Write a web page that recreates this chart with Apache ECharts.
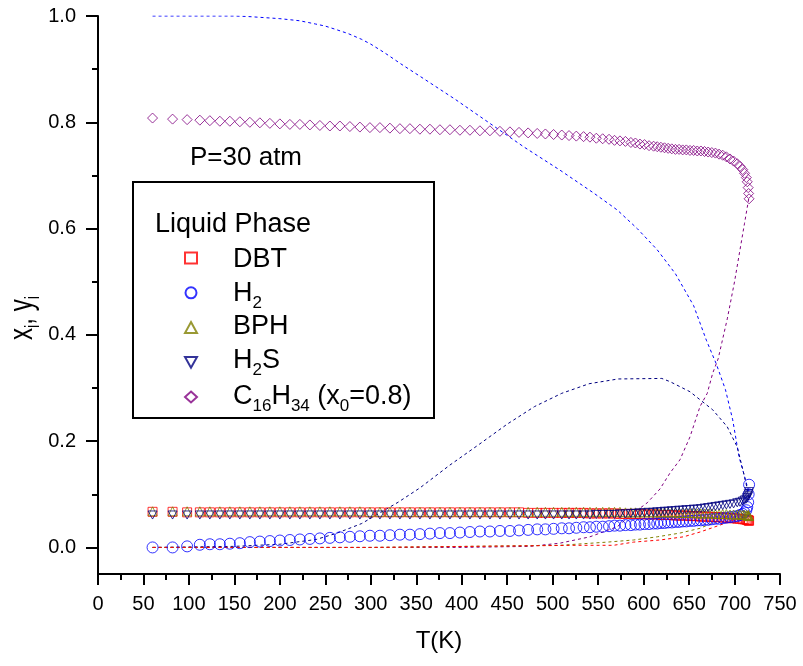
<!DOCTYPE html>
<html><head><meta charset="utf-8">
<script src="https://cdn.jsdelivr.net/npm/echarts@6/dist/echarts.min.js"></script>
<style>html,body{margin:0;padding:0;background:#fff}#c{width:803px;height:666px}</style>
</head><body><div id="c"></div>
<script>
// Liquid phase temperature grid (K)
const T_liq = [60, 82, 98, 112, 123, 134, 145, 156, 167, 178,
  189, 200, 211, 222, 233, 244, 255, 266, 277, 288,
  299, 310, 321, 332, 343, 354, 365, 376, 387, 398,
  409, 420, 431, 442, 453, 463, 473, 483, 492, 501,
  510, 518, 526, 534, 541, 548, 555, 562, 568, 574,
  580, 586, 591, 596, 601, 606, 611, 615, 619, 623,
  627, 631, 635, 639, 643, 647, 651, 655, 659, 663,
  667, 671, 675, 679, 683, 687, 691, 695, 699, 703,
  706, 709, 711, 713, 714, 715, 715.5, 716];

// Liquid mole fractions
const x_DBT = [0.067, 0.067, 0.066, 0.066, 0.066, 0.066, 0.066, 0.066, 0.066, 0.066,
  0.066, 0.066, 0.066, 0.066, 0.066, 0.066, 0.066, 0.066, 0.066, 0.066,
  0.066, 0.066, 0.066, 0.066, 0.066, 0.066, 0.066, 0.066, 0.066, 0.066,
  0.066, 0.066, 0.066, 0.066, 0.066, 0.066, 0.065, 0.065, 0.065, 0.065,
  0.065, 0.065, 0.065, 0.065, 0.064, 0.064, 0.064, 0.064, 0.064, 0.063,
  0.063, 0.063, 0.063, 0.063, 0.062, 0.062, 0.062, 0.062, 0.061, 0.061,
  0.061, 0.061, 0.060, 0.060, 0.060, 0.060, 0.059, 0.059, 0.059, 0.058,
  0.058, 0.058, 0.057, 0.057, 0.057, 0.056, 0.056, 0.055, 0.055, 0.054,
  0.054, 0.053, 0.053, 0.052, 0.052, 0.051, 0.051, 0.050];

const x_H2 = [0.000, 0.000, 0.002, 0.005, 0.006, 0.006, 0.007, 0.008, 0.010, 0.011,
  0.012, 0.013, 0.014, 0.015, 0.016, 0.017, 0.018, 0.019, 0.020, 0.021,
  0.022, 0.022, 0.023, 0.024, 0.024, 0.025, 0.026, 0.027, 0.027, 0.028,
  0.029, 0.030, 0.030, 0.031, 0.031, 0.032, 0.033, 0.034, 0.034, 0.035,
  0.036, 0.036, 0.037, 0.038, 0.038, 0.039, 0.039, 0.040, 0.041, 0.041,
  0.042, 0.042, 0.043, 0.043, 0.044, 0.044, 0.045, 0.045, 0.046, 0.046,
  0.047, 0.047, 0.048, 0.048, 0.049, 0.049, 0.050, 0.050, 0.051, 0.051,
  0.052, 0.052, 0.053, 0.054, 0.054, 0.055, 0.056, 0.057, 0.058, 0.059,
  0.061, 0.063, 0.066, 0.070, 0.076, 0.085, 0.100, 0.118];

const x_BPH = [0.068, 0.068, 0.068, 0.068, 0.068, 0.068, 0.068, 0.068, 0.068, 0.068,
  0.068, 0.068, 0.068, 0.068, 0.068, 0.068, 0.068, 0.068, 0.068, 0.068,
  0.067, 0.067, 0.067, 0.067, 0.067, 0.067, 0.067, 0.067, 0.067, 0.067,
  0.067, 0.067, 0.067, 0.067, 0.067, 0.067, 0.067, 0.067, 0.067, 0.067,
  0.067, 0.067, 0.067, 0.067, 0.067, 0.067, 0.067, 0.067, 0.067, 0.067,
  0.066, 0.066, 0.066, 0.066, 0.066, 0.066, 0.066, 0.066, 0.066, 0.066,
  0.066, 0.066, 0.066, 0.065, 0.065, 0.065, 0.065, 0.065, 0.064, 0.064,
  0.064, 0.064, 0.064, 0.063, 0.063, 0.063, 0.063, 0.062, 0.062, 0.062,
  0.062, 0.061, 0.061, 0.061, 0.060, 0.060, 0.059, 0.059];

const x_H2S = [0.061, 0.061, 0.061, 0.061, 0.061, 0.061, 0.061, 0.061, 0.061, 0.061,
  0.061, 0.061, 0.061, 0.061, 0.061, 0.061, 0.061, 0.061, 0.061, 0.061,
  0.061, 0.061, 0.061, 0.061, 0.061, 0.061, 0.061, 0.061, 0.061, 0.061,
  0.061, 0.061, 0.061, 0.061, 0.061, 0.061, 0.061, 0.061, 0.061, 0.061,
  0.061, 0.061, 0.061, 0.061, 0.061, 0.062, 0.062, 0.062, 0.062, 0.063,
  0.063, 0.064, 0.064, 0.065, 0.065, 0.066, 0.066, 0.067, 0.067, 0.068,
  0.068, 0.069, 0.069, 0.070, 0.070, 0.071, 0.071, 0.072, 0.072, 0.073,
  0.074, 0.075, 0.076, 0.077, 0.078, 0.079, 0.080, 0.081, 0.082, 0.084,
  0.085, 0.087, 0.089, 0.091, 0.094, 0.097, 0.101, 0.105];

const x_C16 = [0.808, 0.806, 0.805, 0.804, 0.803, 0.802, 0.802, 0.801, 0.800, 0.799,
  0.798, 0.797, 0.796, 0.796, 0.795, 0.794, 0.793, 0.793, 0.792, 0.791,
  0.790, 0.790, 0.789, 0.788, 0.788, 0.787, 0.787, 0.786, 0.786, 0.785,
  0.785, 0.784, 0.784, 0.783, 0.782, 0.781, 0.780, 0.779, 0.778, 0.777,
  0.776, 0.775, 0.774, 0.773, 0.772, 0.770, 0.769, 0.768, 0.766, 0.765,
  0.764, 0.762, 0.761, 0.759, 0.758, 0.756, 0.755, 0.754, 0.753, 0.752,
  0.751, 0.750, 0.749, 0.749, 0.748, 0.748, 0.747, 0.747, 0.746, 0.746,
  0.745, 0.744, 0.743, 0.742, 0.740, 0.738, 0.735, 0.731, 0.727, 0.722,
  0.717, 0.711, 0.704, 0.696, 0.688, 0.677, 0.666, 0.656];

// Vapor phase curves (dashed lines)
const T_yH2 = [60, 100, 150, 165, 200, 222, 239, 250, 261, 275, 290, 300, 315, 333, 360, 393, 436, 468, 508, 545, 571, 593, 615, 635, 655, 669, 680, 690, 698, 705, 710, 714, 716];
const y_H2  = [1.0, 1.0, 1.0, 0.999, 0.995, 0.991, 0.985, 0.981, 0.975, 0.967, 0.956, 0.947, 0.931, 0.91, 0.88, 0.843, 0.792, 0.754, 0.71, 0.667, 0.635, 0.60, 0.56, 0.515, 0.455, 0.39, 0.345, 0.297, 0.24, 0.17, 0.14, 0.115, 0.105];

const T_yH2S = [60, 150, 200, 240, 263, 290, 310, 330, 354, 387, 420, 450, 480, 510, 540, 572, 620, 629, 651, 662, 676, 692, 703, 710, 716];
const y_H2S  = [0.0, 0.002, 0.006, 0.015, 0.027, 0.045, 0.065, 0.085, 0.112, 0.155, 0.195, 0.232, 0.265, 0.29, 0.308, 0.317, 0.318, 0.312, 0.293, 0.278, 0.259, 0.227, 0.189, 0.14, 0.095];

const T_yC16 = [60, 200, 400, 475, 508, 541, 571, 589, 604, 618, 629, 640, 651, 662, 670, 676, 682, 686, 692, 700, 706, 711, 714, 716];
const y_C16  = [0.0, 0.0, 0.0, 0.002, 0.008, 0.02, 0.039, 0.065, 0.084, 0.11, 0.14, 0.165, 0.208, 0.265, 0.29, 0.328, 0.355, 0.385, 0.43, 0.5, 0.56, 0.61, 0.64, 0.66];

const T_yBPH = [60, 300, 508, 560, 589, 615, 640, 662, 676, 695, 708, 716];
const y_BPH  = [0.0, 0.0, 0.004, 0.01, 0.014, 0.02, 0.027, 0.036, 0.046, 0.061, 0.068, 0.07];

const T_yDBT = [60, 300, 527, 567, 589, 618, 644, 662, 684, 699, 710, 716];
const y_DBT  = [0.0, 0.0, 0.004, 0.004, 0.01, 0.014, 0.02, 0.029, 0.042, 0.052, 0.056, 0.058];

const yMajor = [0.0, 0.2, 0.4, 0.6, 0.8, 1.0];
const yMinor = [0.1, 0.3, 0.5, 0.7, 0.9];

// Legend labels: [text, isSubscript]
const legendNames = ['DBT', 'H2', 'BPH', 'H2S', 'C16H34 (x0=0.8)'];
const legendParts = [
  [['DBT', 0]],
  [['H', 0], ['2', 1]],
  [['BPH', 0]],
  [['H', 0], ['2', 1], ['S', 0]],
  [['C', 0], ['16', 1], ['H', 0], ['34', 1], [' (x', 0], ['0', 1], ['=0.8)', 0]]
];
const yNameParts = [['x', 0], ['i', 1], [', y', 0], ['i', 1]];

const FONT = 'Liberation Sans, Arial, Helvetica, sans-serif';
const CSSFONT = '"Liberation Sans", Arial, Helvetica, sans-serif';
const pair = (xs, ys) => xs.map((t, i) => [t, ys[i]]);

const mctx = document.createElement('canvas').getContext('2d');
function tw(t, size) { mctx.font = size + 'px ' + CSSFONT; return mctx.measureText(t).width; }
function subText(parts, x0, y0, size, subSize, subDy, center) {
  let total = 0;
  parts.forEach(([t, s]) => { total += tw(t, s ? subSize : size); });
  let cx = center ? x0 - total / 2 : x0;
  const els = [];
  parts.forEach(([t, s]) => {
    const fs = s ? subSize : size;
    els.push({ type: 'text', x: cx, y: s ? y0 + subDy : y0,
      style: { text: t, fontSize: fs, fontFamily: FONT, fill: '#000', align: 'left', verticalAlign: 'middle' }, z: 10 });
    cx += tw(t, fs);
  });
  return els;
}

function scatter(name, data, symbol, size, color) {
  return {
    name, type: 'scatter', data, symbol, symbolSize: size, symbolKeepAspect: true,
    itemStyle: { color: 'rgba(0,0,0,0)', borderColor: color, borderWidth: 1 },
    emphasis: { disabled: true }, z: 3
  };
}
function vline(name, data, color) {
  return {
    name, type: 'line', data, showSymbol: false, symbol: 'none',
    lineStyle: { color, width: 1, type: [3, 3] }, emphasis: { disabled: true }, z: 2
  };
}

const legendRowY = [260, 293.5, 327, 360.5, 396.5];
const graphics = [
  { type: 'rect', shape: { x: 133, y: 182, width: 301, height: 236 }, style: { fill: 'none', stroke: '#000', lineWidth: 2 }, z: 10 },
  { type: 'text', x: 155, y: 225, style: { text: 'Liquid Phase', fontSize: 27, fontFamily: FONT, fill: '#000', align: 'left', verticalAlign: 'middle' }, z: 10 },
  { type: 'text', x: 190, y: 158, style: { text: 'P=30 atm', fontSize: 26, fontFamily: FONT, fill: '#000', align: 'left', verticalAlign: 'middle' }, z: 10 },
  { type: 'group', x: 23, y: 318, rotation: Math.PI / 2, scaleY: 1.4,
    children: subText(yNameParts, 0, 0, 24, 15, 7, true) }
];
legendParts.forEach((p, i) => { graphics.push(...subText(p, 233, legendRowY[i], 27, 17, 10, false)); });

const chart = echarts.init(document.getElementById('c'), null, { renderer: 'canvas' });
chart.setOption({
  animation: false,
  backgroundColor: '#fff',
  textStyle: { fontFamily: FONT },
  grid: { left: 98, right: 23, top: 16, bottom: 92, containLabel: false, outerBoundsMode: 'none' },
  xAxis: {
    type: 'value', min: 0, max: 750, interval: 50,
    name: 'T(K)', nameLocation: 'middle', nameGap: 55,
    nameTextStyle: { fontSize: 24, color: '#000', fontFamily: FONT },
    axisLine: { onZero: false, lineStyle: { color: '#000', width: 2 } },
    axisTick: { length: 11, lineStyle: { color: '#000', width: 2 } },
    minorTick: { show: true, splitNumber: 2, length: 6, lineStyle: { color: '#000', width: 2 } },
    axisLabel: { fontSize: 20, color: '#000', margin: 20, fontFamily: FONT },
    splitLine: { show: false }, minorSplitLine: { show: false }
  },
  yAxis: [{
    type: 'value', min: -0.05, max: 1.0, position: 'left',
    axisLine: { onZero: false, lineStyle: { color: '#000', width: 2 } },
    axisTick: { length: 12, customValues: yMajor, lineStyle: { color: '#000', width: 2 } },
    axisLabel: { customValues: yMajor, formatter: v => v.toFixed(1), fontSize: 20, color: '#000', margin: 22, fontFamily: FONT },
    splitLine: { show: false }
  }, {
    type: 'value', min: -0.05, max: 1.0, position: 'left', offset: 0,
    axisLine: { show: false, onZero: false },
    axisTick: { show: true, length: 6, customValues: yMinor, lineStyle: { color: '#000', width: 2 } },
    axisLabel: { show: false },
    splitLine: { show: false }
  }],
  legend: {
    data: legendNames,
    orient: 'vertical', left: 184, top: 251.5, padding: 0,
    itemWidth: 12, itemHeight: 11, itemGap: 21.8,
    selectedMode: false,
    formatter: () => ' ',
    textStyle: { fontSize: 1, lineHeight: 1, color: 'rgba(0,0,0,0)' }
  },
  graphic: graphics,
  series: [
    vline('yH2', pair(T_yH2, y_H2), '#0000ff'),
    vline('yH2S', pair(T_yH2S, y_H2S), '#000080'),
    vline('yC16', pair(T_yC16, y_C16), '#800080'),
    vline('yBPH', pair(T_yBPH, y_BPH), '#808000'),
    vline('yDBT', pair(T_yDBT, y_DBT), '#ff0000'),
    scatter('DBT', pair(T_liq, x_DBT), 'rect', 9, '#ff0000'),
    scatter('H2', pair(T_liq, x_H2), 'circle', 11, '#0000ff'),
    scatter('BPH', pair(T_liq, x_BPH), 'triangle', 9, '#808000'),
    scatter('H2S', pair(T_liq, x_H2S), 'path://M0,0L10,0L5,9Z', 9, '#000080'),
    scatter('C16H34 (x0=0.8)', pair(T_liq, x_C16), 'diamond', 10, '#800080')
  ]
});
</script></body></html>
